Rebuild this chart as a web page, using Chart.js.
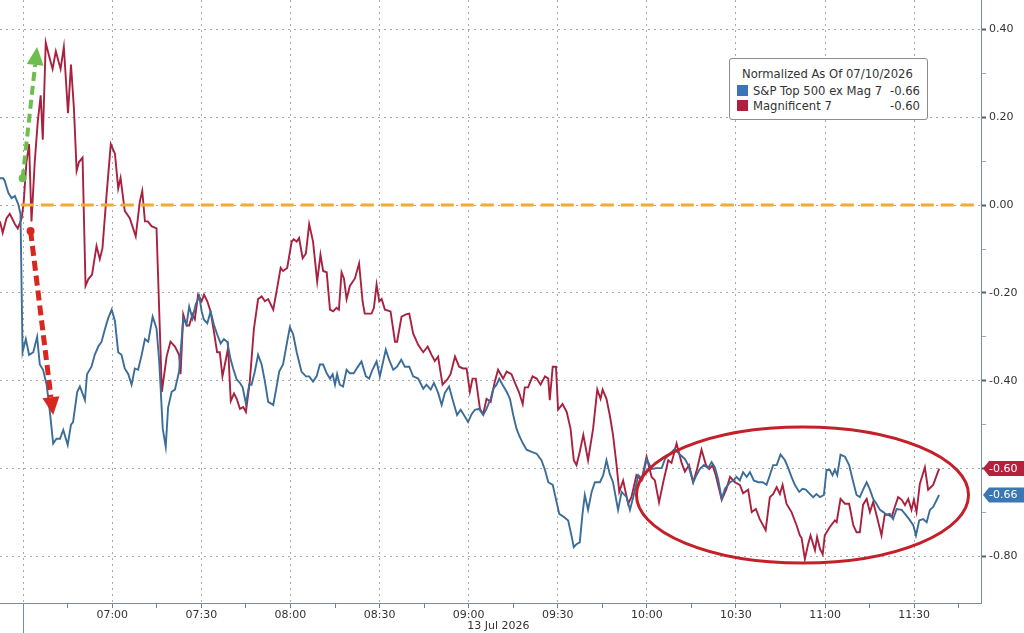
<!DOCTYPE html>
<html lang="en">
<head>
    <meta charset="UTF-8">
    <title>S&amp;P Top 500 ex Mag 7 vs Magnificent 7</title>
    <script src="https://cdn.jsdelivr.net/npm/chart.js"></script>
    <style>
        body {
            margin: 0;
            background-color: #ffffff;
        }
        .wrap {
            position: relative;
            width: 1024px;
            height: 633px;
        }
        #legend {
            position: absolute;
            left: 729px;
            top: 58px;
            width: 199px;
            height: 62px;
            box-sizing: border-box;
            border: 1px solid #8c8c8c;
            border-radius: 3px;
            background-color: #ffffff;
            font-family: 'DejaVu Sans', sans-serif;
            font-size: 11.6px;
            color: #333;
        }
        #legend .title {
            position: absolute;
            left: 12px;
            top: 8px;
            line-height: 15px;
            white-space: nowrap;
        }
        #legend .row {
            position: absolute;
            left: 7px;
            right: 7px;
            line-height: 15px;
            white-space: nowrap;
        }
        #legend .swatch {
            display: inline-block;
            width: 11px;
            height: 11px;
            margin-right: 5px;
            vertical-align: -1px;
        }
        #legend .val {
            position: absolute;
            right: 0;
            top: 0;
        }
    </style>
</head>
<body>
    <div class="wrap">
        <canvas id="chart" width="1024" height="633"></canvas>
        <div id="legend"></div>
    </div>

    <script>
        // times are minutes after midnight, 13 Jul 2026
        const spxName = 'S&P Top 500 ex Mag 7';
        const spxTimes = [
            382.2, 383.3, 383.8, 385.0, 386.1, 387.2, 388.3, 389.1, 389.8, 390.9,
            392.0, 393.4, 394.7, 395.6, 396.7, 397.9, 399.0, 400.1, 401.2, 402.4,
            403.5, 405.0, 406.1, 406.8, 408.2, 409.1, 410.8, 411.5, 413.0, 414.1,
            415.3, 416.4, 417.5, 418.6, 419.8, 420.9, 422.0, 423.1, 424.2, 425.4,
            426.5, 427.6, 428.7, 429.9, 431.0, 432.1, 433.6, 434.9, 435.8, 437.0,
            438.0, 438.8, 440.0, 441.1, 442.5, 443.9, 445.0, 445.9, 447.0, 448.1,
            449.3, 450.1, 450.8, 452.0, 453.1, 454.2, 455.3, 456.5, 457.6, 458.7,
            459.8, 460.7, 461.9, 463.0, 463.9, 465.0, 466.1, 466.9, 468.0, 469.1,
            470.3, 471.4, 472.5, 474.2, 475.3, 476.2, 477.5, 478.7, 479.8, 480.9,
            482.1, 483.7, 485.2, 486.3, 487.6, 488.8, 489.9, 491.0, 492.2, 493.3,
            494.2, 495.0, 495.7, 496.6, 497.7, 498.9, 500.0, 501.3, 502.5, 503.9,
            505.4, 506.5, 507.6, 509.0, 510.1, 511.2, 512.1, 513.2, 514.6, 515.9,
            517.3, 518.5, 520.0, 521.3, 523.0, 524.7, 525.8, 527.2, 528.3, 529.7,
            530.9, 532.0, 533.4, 534.8, 536.1, 537.3, 538.4, 539.8, 541.0, 542.1,
            543.5, 544.9, 546.0, 547.4, 548.3, 549.4, 550.3, 551.4, 552.8, 553.9,
            555.0, 556.1, 557.2, 558.3, 559.5, 561.2, 562.9, 564.5, 565.7, 566.8,
            568.3, 569.6, 570.5, 572.1, 573.5, 574.6, 575.4, 576.3, 577.4, 578.3,
            579.1, 580.2, 581.4, 582.5, 584.2, 585.3, 586.4, 587.5, 588.6, 590.3,
            591.5, 593.2, 594.3, 595.4, 597.1, 598.5, 599.9, 601.6, 603.3, 605.0,
            606.1, 607.8, 609.4, 611.1, 612.8, 613.9, 615.6, 616.7, 617.8, 619.2,
            620.6, 621.8, 622.9, 624.0, 625.2, 626.3, 628.0, 629.1, 630.2, 631.3,
            632.4, 633.6, 634.7, 636.0, 637.5, 639.0, 640.3, 641.4, 642.5, 643.7,
            645.0, 646.5, 647.6, 648.7, 649.8, 651.3, 652.4, 653.5, 654.6, 656.0,
            657.1, 658.3, 659.6, 660.5, 661.6, 662.5, 663.3, 664.1, 665.2, 666.7,
            668.1, 669.5, 670.6, 671.7, 672.8, 674.0, 675.1, 676.2, 677.3, 678.5,
            679.6, 680.7, 681.8, 682.9, 684.1, 685.8, 686.9, 688.3, 689.7, 690.6,
            691.7, 693.0, 694.2, 695.3, 696.4, 698.4
        ];
        const spxValues = [
            0.061, 0.061, 0.055, 0.028, 0.016, 0.021, 0.003, -0.020, -0.335, -0.305,
            -0.341, -0.335, -0.300, -0.363, -0.375, -0.409, -0.471, -0.543, -0.532, -0.532,
            -0.512, -0.546, -0.500, -0.494, -0.425, -0.413, -0.444, -0.385, -0.368, -0.341,
            -0.322, -0.311, -0.283, -0.258, -0.238, -0.264, -0.335, -0.341, -0.372, -0.385,
            -0.409, -0.372, -0.375, -0.341, -0.305, -0.311, -0.254, -0.281, -0.355, -0.509,
            -0.550, -0.461, -0.425, -0.420, -0.379, -0.258, -0.272, -0.231, -0.258, -0.226,
            -0.208, -0.242, -0.260, -0.269, -0.242, -0.272, -0.294, -0.315, -0.305, -0.311,
            -0.350, -0.372, -0.397, -0.405, -0.415, -0.453, -0.409, -0.409, -0.379, -0.341,
            -0.363, -0.402, -0.448, -0.455, -0.415, -0.379, -0.363, -0.318, -0.278, -0.294,
            -0.335, -0.379, -0.390, -0.390, -0.402, -0.390, -0.363, -0.363, -0.383, -0.395,
            -0.385, -0.409, -0.385, -0.409, -0.413, -0.375, -0.383, -0.383, -0.370, -0.356,
            -0.390, -0.395, -0.375, -0.356, -0.390, -0.356, -0.329, -0.352, -0.375, -0.368,
            -0.352, -0.368, -0.368, -0.390, -0.395, -0.418, -0.409, -0.420, -0.405, -0.427,
            -0.455, -0.427, -0.413, -0.448, -0.478, -0.466, -0.478, -0.494, -0.476, -0.466,
            -0.464, -0.478, -0.464, -0.441, -0.418, -0.409, -0.395, -0.409, -0.425, -0.441,
            -0.478, -0.509, -0.528, -0.543, -0.557, -0.562, -0.566, -0.581, -0.603, -0.631,
            -0.637, -0.676, -0.703, -0.710, -0.718, -0.752, -0.779, -0.772, -0.768, -0.705,
            -0.660, -0.694, -0.653, -0.631, -0.631, -0.615, -0.581, -0.612, -0.631, -0.694,
            -0.653, -0.665, -0.694, -0.665, -0.615, -0.624, -0.578, -0.601, -0.599, -0.599,
            -0.578, -0.566, -0.555, -0.568, -0.578, -0.592, -0.631, -0.615, -0.601, -0.592,
            -0.599, -0.585, -0.597, -0.624, -0.669, -0.646, -0.631, -0.627, -0.619, -0.627,
            -0.608, -0.619, -0.608, -0.627, -0.631, -0.631, -0.637, -0.615, -0.592, -0.592,
            -0.568, -0.581, -0.599, -0.619, -0.637, -0.653, -0.646, -0.648, -0.656, -0.665,
            -0.658, -0.665, -0.660, -0.603, -0.603, -0.615, -0.603, -0.615, -0.568, -0.573,
            -0.592, -0.631, -0.660, -0.665, -0.648, -0.631, -0.648, -0.669, -0.680, -0.694,
            -0.699, -0.705, -0.703, -0.715, -0.692, -0.694, -0.703, -0.715, -0.729, -0.752,
            -0.718, -0.715, -0.722, -0.694, -0.687, -0.660
        ];

        const magName = 'Magnificent 7';
        const magTimes = [
            382.2, 383.1, 384.4, 385.5, 387.2, 388.2, 389.5, 390.2, 391.1, 392.0,
            392.8, 393.9, 394.9, 395.9, 396.6, 397.6, 398.7, 399.9, 401.0, 402.6,
            403.7, 405.1, 406.1, 407.1, 408.0, 408.8, 410.0, 411.0, 411.9, 413.2,
            414.7, 415.8, 416.7, 418.1, 419.5, 420.9, 422.0, 422.8, 424.2, 425.9,
            427.9, 429.3, 430.1, 431.0, 432.0, 433.2, 434.9, 436.7, 438.3, 439.6,
            441.1, 442.5, 443.0, 443.9, 445.0, 445.9, 447.0, 447.8, 448.9, 450.1,
            450.9, 452.0, 453.1, 454.2, 455.3, 456.2, 457.1, 458.3, 459.0, 459.9,
            461.0, 461.9, 463.0, 464.1, 465.0, 466.3, 467.7, 469.1, 470.3, 471.4,
            472.5, 474.2, 475.3, 476.7, 477.5, 478.9, 480.4, 481.1, 482.1, 482.9,
            484.1, 485.2, 486.3, 487.6, 489.0, 490.1, 491.0, 492.2, 493.3, 494.4,
            495.5, 496.3, 497.2, 498.0, 498.9, 500.0, 501.7, 503.1, 504.3, 505.0,
            507.3, 508.1, 509.0, 509.9, 510.7, 511.8, 513.7, 515.2, 515.9, 517.4,
            518.9, 520.0, 521.3, 523.0, 524.7, 526.2, 527.5, 528.6, 529.7, 531.2,
            532.8, 533.9, 535.4, 536.8, 538.1, 539.3, 540.4, 541.3, 542.4, 543.8,
            544.9, 546.0, 547.4, 548.8, 549.9, 551.6, 552.8, 554.4, 555.6, 556.9,
            558.2, 558.9, 560.0, 561.5, 562.9, 564.2, 565.7, 566.8, 567.3, 568.3,
            569.4, 570.1, 571.6, 573.0, 574.3, 575.4, 576.3, 577.4, 578.6, 580.2,
            581.9, 583.3, 584.4, 585.1, 586.4, 587.5, 588.6, 589.8, 590.7, 592.0,
            593.7, 594.8, 596.5, 598.2, 599.9, 601.6, 602.7, 604.1, 605.5, 607.2,
            608.3, 610.0, 611.7, 612.8, 614.2, 615.6, 616.9, 618.4, 619.9, 621.0,
            622.1, 623.2, 625.2, 626.8, 628.0, 629.6, 631.3, 632.4, 634.1, 635.3,
            636.7, 638.0, 640.0, 641.4, 642.5, 643.7, 644.8, 645.7, 647.0, 648.7,
            650.4, 651.5, 652.1, 653.2, 654.3, 655.1, 656.6, 657.3, 658.3, 659.2,
            659.9, 661.6, 663.3, 663.9, 665.2, 666.7, 668.1, 669.5, 670.6, 671.7,
            672.8, 674.0, 675.1, 676.2, 677.3, 679.0, 680.1, 681.3, 682.4, 683.5,
            684.6, 685.8, 686.9, 688.0, 689.1, 689.9, 690.8, 691.9, 693.6, 694.7,
            696.4, 698.4
        ];
        const magValues = [
            -0.037, -0.063, -0.030, -0.020, -0.043, -0.053, -0.030, 0.008, 0.098, 0.139,
            -0.037, 0.098, 0.189, 0.250, 0.149, 0.370, 0.340, 0.310, 0.350, 0.310,
            0.360, 0.209, 0.320, 0.219, 0.078, 0.098, 0.108, -0.184, -0.169, -0.158,
            -0.093, -0.123, -0.098, 0.025, 0.139, 0.117, 0.038, 0.062, -0.013, -0.030,
            -0.071, 0.009, 0.032, -0.037, -0.037, -0.048, -0.053, -0.425, -0.345, -0.311,
            -0.322, -0.341, -0.385, -0.249, -0.274, -0.274, -0.249, -0.260, -0.204, -0.219,
            -0.204, -0.219, -0.242, -0.287, -0.335, -0.335, -0.390, -0.350, -0.325, -0.446,
            -0.429, -0.441, -0.464, -0.460, -0.471, -0.402, -0.281, -0.214, -0.208, -0.219,
            -0.214, -0.238, -0.197, -0.143, -0.150, -0.143, -0.083, -0.078, -0.083, -0.075,
            -0.121, -0.110, -0.043, -0.083, -0.174, -0.113, -0.150, -0.153, -0.238, -0.242,
            -0.234, -0.238, -0.153, -0.167, -0.214, -0.184, -0.167, -0.133, -0.220, -0.247,
            -0.247, -0.234, -0.181, -0.219, -0.214, -0.238, -0.242, -0.311, -0.311, -0.254,
            -0.249, -0.247, -0.292, -0.318, -0.335, -0.322, -0.341, -0.355, -0.345, -0.409,
            -0.397, -0.385, -0.345, -0.368, -0.372, -0.372, -0.425, -0.395, -0.395, -0.464,
            -0.476, -0.441, -0.448, -0.402, -0.375, -0.395, -0.379, -0.385, -0.405, -0.425,
            -0.453, -0.415, -0.415, -0.390, -0.395, -0.409, -0.390, -0.395, -0.444, -0.368,
            -0.368, -0.466, -0.453, -0.471, -0.509, -0.581, -0.592, -0.562, -0.523, -0.581,
            -0.509, -0.420, -0.441, -0.420, -0.441, -0.478, -0.523, -0.592, -0.653, -0.627,
            -0.680, -0.665, -0.615, -0.627, -0.573, -0.619, -0.627, -0.677, -0.631, -0.581,
            -0.587, -0.543, -0.587, -0.607, -0.592, -0.631, -0.601, -0.557, -0.592, -0.601,
            -0.592, -0.615, -0.671, -0.646, -0.619, -0.631, -0.637, -0.656, -0.648, -0.699,
            -0.692, -0.715, -0.740, -0.665, -0.658, -0.642, -0.658, -0.637, -0.680, -0.699,
            -0.729, -0.752, -0.758, -0.806, -0.772, -0.752, -0.786, -0.756, -0.783, -0.795,
            -0.752, -0.733, -0.718, -0.722, -0.669, -0.680, -0.680, -0.729, -0.745, -0.745,
            -0.682, -0.669, -0.699, -0.676, -0.705, -0.752, -0.705, -0.705, -0.710, -0.687,
            -0.665, -0.671, -0.683, -0.669, -0.694, -0.671, -0.699, -0.635, -0.597, -0.648,
            -0.637, -0.600
        ];

        const timeTicks = [
            '06:30', '06:45', '07:00', '07:15', '07:30', '07:45', '08:00', '08:15',
            '08:30', '08:45', '09:00', '09:15', '09:30', '09:45', '10:00', '10:15',
            '10:30', '10:45', '11:00', '11:15', '11:30', '11:45'
        ];
        const timeLabels = ['07:00', '07:30', '08:00', '08:30', '09:00', '09:30', '10:00', '10:30', '11:00', '11:30'];
        const valueTicks = [-0.8, -0.7, -0.6, -0.5, -0.4, -0.3, -0.2, -0.1, 0, 0.1, 0.2, 0.3, 0.4];
        const valueLabels = ['0.40', '0.20', '0.00', '-0.20', '-0.40', '-0.60', '-0.80'];
        const legendTitle = 'Normalized As Of 07/10/2026';
        const dateLabel = '13 Jul 2026';

        const spxColor = '#3c6d98';
        const magColor = '#a8223f';
        const fontFamily = "'DejaVu Sans', sans-serif";

        function toMinutes(hhmm) {
            const parts = hhmm.split(':');
            return Number(parts[0]) * 60 + Number(parts[1]);
        }

        function toHhmm(minutes) {
            const h = Math.floor(minutes / 60);
            const m = Math.round(minutes - h * 60);
            return String(h).padStart(2, '0') + ':' + String(m).padStart(2, '0');
        }

        function isMajorTime(value) {
            return value !== undefined && value % 30 === 0;
        }

        function isMajorValue(value) {
            return value !== undefined && valueLabels.includes(value.toFixed(2));
        }

        // legend box
        const legendEl = document.getElementById('legend');
        legendEl.innerHTML =
            '<div class="title">' + legendTitle + '</div>' +
            '<div class="row" style="top:25px"><span class="swatch" style="background:#3b74b8"></span>' +
            spxName.replace('&', '&amp;') + '<span class="val">' + spxValues[spxValues.length - 1].toFixed(2) + '</span></div>' +
            '<div class="row" style="top:40px"><span class="swatch" style="background:#b01f3b"></span>' +
            magName + '<span class="val">' + magValues[magValues.length - 1].toFixed(2) + '</span></div>';

        function drawArrow(ctx, x1, y1, x2, y2, color, width, dash, headLen, headHalf) {
            const ang = Math.atan2(y2 - y1, x2 - x1);
            const bx = x2 - Math.cos(ang) * headLen;
            const by = y2 - Math.sin(ang) * headLen;
            ctx.save();
            ctx.strokeStyle = color;
            ctx.fillStyle = color;
            ctx.lineWidth = width;
            ctx.setLineDash(dash);
            ctx.beginPath();
            ctx.moveTo(x1, y1);
            ctx.lineTo(bx, by);
            ctx.stroke();
            ctx.setLineDash([]);
            ctx.beginPath();
            ctx.arc(x1, y1, 4, 0, Math.PI * 2);
            ctx.fill();
            ctx.beginPath();
            ctx.moveTo(x2, y2);
            ctx.lineTo(bx + Math.sin(ang) * headHalf, by - Math.cos(ang) * headHalf);
            ctx.lineTo(bx - Math.sin(ang) * headHalf, by + Math.cos(ang) * headHalf);
            ctx.closePath();
            ctx.fill();
            ctx.restore();
        }

        function drawTag(ctx, x, y, w, h, color, text) {
            ctx.save();
            ctx.fillStyle = color;
            ctx.beginPath();
            ctx.moveTo(x, y);
            ctx.lineTo(x + 6, y - h / 2);
            ctx.lineTo(x + w, y - h / 2);
            ctx.lineTo(x + w, y + h / 2);
            ctx.lineTo(x + 6, y + h / 2);
            ctx.closePath();
            ctx.fill();
            ctx.fillStyle = '#ffffff';
            ctx.font = '11px ' + fontFamily;
            ctx.textAlign = 'left';
            ctx.textBaseline = 'middle';
            ctx.fillText(text, x + 6, y + 0.5);
            ctx.restore();
        }

        const notes = {
            zeroFrom: 389.2,
            upArrow: { from: [389.8, 0.061], to: [394.7, 0.360], color: '#6cbf4f' },
            downArrow: { from: [392.5, -0.059], to: [400.1, -0.478], color: '#d8271f' },
            ring: { center: [652.4, -0.660], rx: 55.9, ry: 0.155, color: '#c4202a' }
        };

        const notesPlugin = {
            id: 'notes',
            afterDatasetsDraw(chart) {
                const ctx = chart.ctx;
                const xs = chart.scales.x;
                const ys = chart.scales.y;
                const area = chart.chartArea;

                // zero line
                ctx.save();
                ctx.strokeStyle = '#f2aa36';
                ctx.lineWidth = 3;
                ctx.setLineDash([13, 7]);
                ctx.beginPath();
                ctx.moveTo(xs.getPixelForValue(notes.zeroFrom), ys.getPixelForValue(0));
                ctx.lineTo(area.right, ys.getPixelForValue(0));
                ctx.stroke();
                ctx.restore();

                [notes.upArrow, notes.downArrow].forEach((a, i) => {
                    drawArrow(ctx,
                        xs.getPixelForValue(a.from[0]), ys.getPixelForValue(a.from[1]),
                        xs.getPixelForValue(a.to[0]), ys.getPixelForValue(a.to[1]),
                        a.color, i === 0 ? 4 : 5, i === 0 ? [9, 5] : [10, 5], 18, 8.5);
                });

                const r = notes.ring;
                const cx = xs.getPixelForValue(r.center[0]);
                const cy = ys.getPixelForValue(r.center[1]);
                const rx = xs.getPixelForValue(r.center[0] + r.rx) - cx;
                const ry = ys.getPixelForValue(r.center[1] - r.ry) - cy;
                ctx.save();
                ctx.strokeStyle = r.color;
                ctx.lineWidth = 3;
                ctx.beginPath();
                ctx.ellipse(cx, cy, rx, ry, 0, 0, Math.PI * 2);
                ctx.stroke();
                ctx.restore();
            },
            afterDraw(chart) {
                const ctx = chart.ctx;
                const xs = chart.scales.x;
                const ys = chart.scales.y;
                const area = chart.chartArea;

                // session start marker below the axis
                ctx.save();
                ctx.strokeStyle = '#7d8c99';
                ctx.lineWidth = 1;
                const sx = Math.round(xs.getPixelForValue(toMinutes(timeTicks[0]))) + 0.5;
                ctx.beginPath();
                ctx.moveTo(sx, area.bottom);
                ctx.lineTo(sx, chart.height);
                ctx.stroke();

                ctx.fillStyle = '#333';
                ctx.font = '11px ' + fontFamily;
                ctx.textAlign = 'center';
                ctx.textBaseline = 'middle';
                ctx.fillText(dateLabel, xs.getPixelForValue(550), 626);
                ctx.restore();

                const tagX = area.right + 2;
                const tagW = chart.width - tagX;
                drawTag(ctx, tagX, ys.getPixelForValue(magValues[magValues.length - 1]), tagW, 15,
                    '#b5213d', magValues[magValues.length - 1].toFixed(2));
                drawTag(ctx, tagX, ys.getPixelForValue(spxValues[spxValues.length - 1]), tagW, 15,
                    '#3a77b4', spxValues[spxValues.length - 1].toFixed(2));
            }
        };

        const ctx = document.getElementById('chart').getContext('2d');
        new Chart(ctx, {
            type: 'line',
            data: {
                datasets: [
                    {
                        label: spxName,
                        data: spxTimes.map((t, i) => ({ x: t, y: spxValues[i] })),
                        borderColor: spxColor,
                        borderWidth: 1.9,
                        pointRadius: 0,
                        tension: 0
                    },
                    {
                        label: magName,
                        data: magTimes.map((t, i) => ({ x: t, y: magValues[i] })),
                        borderColor: magColor,
                        borderWidth: 1.9,
                        pointRadius: 0,
                        tension: 0
                    }
                ]
            },
            options: {
                responsive: false,
                animation: false,
                layout: { padding: 0 },
                plugins: {
                    legend: { display: false },
                    tooltip: { enabled: false }
                },
                scales: {
                    x: {
                        type: 'linear',
                        min: 382.2,
                        max: 712.5,
                        afterBuildTicks: scale => {
                            scale.ticks = timeTicks.map(t => ({ value: toMinutes(t) }));
                        },
                        afterFit: scale => {
                            scale.height = 30;
                            scale.paddingLeft = 0;
                            scale.paddingRight = 0;
                        },
                        ticks: {
                            autoSkip: false,
                            maxRotation: 0,
                            padding: 1,
                            color: '#333',
                            font: { family: fontFamily, size: 11 },
                            callback: value => {
                                const label = toHhmm(value);
                                return timeLabels.includes(label) ? label : '';
                            }
                        },
                        grid: {
                            color: c => isMajorTime(c.tick && c.tick.value) ? '#a8a8a8' : 'rgba(0,0,0,0)',
                            lineWidth: 1,
                            drawTicks: true,
                            tickLength: 5,
                            tickColor: '#6e8091',
                            tickWidth: 1
                        },
                        border: { display: true, color: '#7d8c99', width: 1, dash: [2, 4] }
                    },
                    y: {
                        position: 'right',
                        min: -0.906,
                        max: 0.467,
                        afterBuildTicks: scale => {
                            scale.ticks = valueTicks.map(v => ({ value: v }));
                        },
                        afterFit: scale => {
                            scale.width = 43;
                            scale.paddingTop = 0;
                            scale.paddingBottom = 0;
                        },
                        ticks: {
                            autoSkip: false,
                            padding: 3,
                            color: '#333',
                            font: { family: fontFamily, size: 11 },
                            callback: value => {
                                const label = value.toFixed(2);
                                return valueLabels.includes(label) ? label : '';
                            }
                        },
                        grid: {
                            color: c => isMajorValue(c.tick && c.tick.value) ? '#a8a8a8' : 'rgba(0,0,0,0)',
                            lineWidth: 1,
                            drawTicks: true,
                            tickLength: 5,
                            tickColor: c => isMajorValue(c.tick && c.tick.value) ? '#4e6275' : '#9aa7b2',
                            tickWidth: c => isMajorValue(c.tick && c.tick.value) ? 2 : 1
                        },
                        border: { display: true, color: '#7d8c99', width: 1, dash: [2, 4] }
                    }
                }
            },
            plugins: [notesPlugin]
        });
    </script>
</body>
</html>
